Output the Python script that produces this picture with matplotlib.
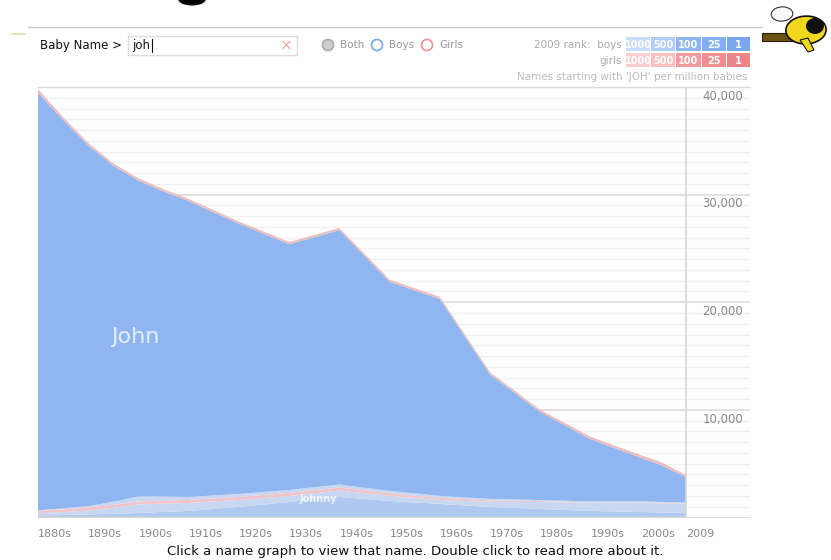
import matplotlib
matplotlib.use("Agg")
import matplotlib.pyplot as plt
from matplotlib.patches import Rectangle, Ellipse, Polygon
import numpy as np

# ---------------- data (per million babies) ----------------
years = [1880, 1885, 1890, 1895, 1900, 1905, 1910, 1920, 1930, 1940,
         1950, 1960, 1970, 1980, 1990, 2000, 2004, 2009]
total_top = [39800, 37200, 34800, 32900, 31500, 30500, 29600, 27500, 25600, 26900,
             22100, 20500, 13500, 10000, 7500, 5800, 5150, 3950]
base_thin = [140, 140, 140, 140, 140, 140, 140, 140, 140, 140,
             140, 140, 140, 140, 140, 140, 140, 140]
johnny = [50, 90, 140, 200, 280, 380, 470, 840, 1300, 1770,
          1400, 1120, 840, 650, 470, 370, 330, 280]
johnnie = [200, 280, 370, 560, 790, 770, 740, 650, 560, 600,
           470, 370, 470, 650, 740, 840, 840, 840]
girls_low = [230, 250, 280, 280, 280, 280, 280, 280, 280, 280,
             230, 190, 140, 90, 50, 50, 50, 50]
johnie = [50, 90, 140, 280, 470, 370, 280, 280, 280, 280,
          230, 190, 140, 90, 90, 90, 90, 90]
girls_john = [350, 250, 220, 200, 200, 200, 200, 200, 200, 200,
              200, 200, 200, 200, 220, 250, 280, 200]
john = [t - a - b - c - d - e - f for t, a, b, c, d, e, f in
        zip(total_top, base_thin, johnny, johnnie, girls_low, johnie, girls_john)]

decade_labels = ["1880s", "1890s", "1900s", "1910s", "1920s", "1930s", "1940s",
                 "1950s", "1960s", "1970s", "1980s", "1990s", "2000s", "2009"]
decade_pos = [1880, 1890, 1900, 1910, 1920, 1930, 1940, 1950, 1960, 1970,
              1980, 1990, 2000, 2009]
y_major = [10000, 20000, 30000, 40000]
y_major_labels = ["10,000", "20,000", "30,000", "40,000"]
rank_levels = ["1000", "500", "100", "25", "1"]

# ---------------- figure ----------------
W, H = 831, 560
plt.rcParams['font.family'] = ['DejaVu Sans']
fig = plt.figure(figsize=(W / 100, H / 100), dpi=100)


def fx(x):
    return x / W


def fy(y):
    return 1 - y / H


# plot axes
L, R, T, B = 38, 750, 87, 517.5
ax = fig.add_axes([fx(L), fy(B), (R - L) / W, (B - T) / H])
xmax = 1880 + (R - L) / 5.023
ax.set_xlim(1880, xmax)
ax.set_ylim(0, 40000)
for s in ax.spines.values():
    s.set_visible(False)
ax.set_xticks([])
ax.set_yticks([])

# gridlines
for v in range(1000, 40001, 1000):
    if v % 10000 == 0:
        ax.axhline(v, color="#dcdcdc", lw=1.2, zorder=0)
    else:
        ax.axhline(v, color="#f0f0f0", lw=1.0, zorder=0)
ax.axhline(0, color="#d8d8d8", lw=1.2, zorder=5)

stack_cols = ["#c3cde0", "#afc8f0", "#c8d8f2", "#f2c4c8", "#c8d8f2", "#8fb6f0", "#eebcbc"]
ax.stackplot(years, base_thin, johnny, johnnie, girls_low, johnie, john, girls_john,
             colors=stack_cols, lw=0, zorder=2)

ax.axvline(2009, color="#d6d6d6", lw=1.2, zorder=3)

for v, lab in zip(y_major, y_major_labels):
    ax.text(xmax - 1.4, v - 850, lab, ha="right", va="center",
            fontsize=8.5, color="#888888")

ax.text(1894.5, 16800, "John", fontsize=16, color="#e6eefb", ha="left", va="center")
ax.text(1932.0, 1750, "Johnny", fontsize=7, color="#eef3fc", ha="left", va="center",
        fontweight="bold")

# x tick labels
for p, lab in zip(decade_pos, decade_labels):
    ax.text(p, -1500, lab, ha="left", va="center", fontsize=8, color="#888888",
            clip_on=False)

fig.text(fx(415), fy(551), "Click a name graph to view that name. Double click to read more about it.",
         ha="center", va="center", fontsize=9.5, color="#111111")

# ---------------- header ----------------
fig.add_artist(plt.Line2D([fx(28), fx(762)], [fy(27), fy(27)], color="#cccccc", lw=1))
fig.add_artist(plt.Line2D([fx(38), fx(750)], [fy(87), fy(87)], color="#dcdcdc", lw=1))
fig.add_artist(Rectangle((fx(11), fy(35)), fx(15), 2 / H, color="#e6e2b0", lw=0))

fig.text(fx(40), fy(45.5), "Baby Name >", fontsize=8.5, color="#111111", va="center", ha="left")
fig.add_artist(Rectangle((fx(128), fy(55)), fx(169), 19 / H, facecolor="white",
                         edgecolor="#dddddd", lw=1))
fig.text(fx(132), fy(45.5), "joh", fontsize=8.5, color="#111111", va="center", ha="left")
fig.add_artist(plt.Line2D([fx(151.5), fx(151.5)], [fy(39), fy(52)], color="#111111", lw=0.8))
fig.text(fx(286), fy(46), "\u00d7", fontsize=11, color="#f4a8a8", va="center", ha="center")

radio = [(328, "#aaaaaa", "#cfcfcf", "Both"), (377, "#78a8f0", "white", "Boys"),
         (427, "#f09090", "white", "Girls")]
for cx, ec, fc, lab in radio:
    fig.add_artist(Ellipse((fx(cx), fy(45)), 11 / W, 11 / H, facecolor=fc,
                           edgecolor=ec, lw=1.2))
    fig.text(fx(cx + 12), fy(45.5), lab, fontsize=7.5, color="#999999", va="center", ha="left")

fig.text(fx(622), fy(45), "2009 rank:  boys", fontsize=7.5, color="#aaaaaa",
         va="center", ha="right")
fig.text(fx(622), fy(60.5), "girls", fontsize=7.5, color="#aaaaaa", va="center", ha="right")
boy_cols = ["#c9dcfb", "#b4cdf6", "#8fb6f1", "#84aef0", "#7aa8ee"]
girl_cols = ["#fbcfcf", "#f8c0c0", "#f09c9c", "#ee8e8e", "#ec8585"]
cell_x = [626, 651, 676, 702, 727]
cell_w = [24, 24, 25, 24, 23]
for i, lab in enumerate(rank_levels):
    for row, (yt, cols) in enumerate([(37, boy_cols), (53, girl_cols)]):
        fig.add_artist(Rectangle((fx(cell_x[i]), fy(yt + 14)), cell_w[i] / W, 14 / H,
                                 facecolor=cols[i], edgecolor="none"))
        fig.text(fx(cell_x[i] + cell_w[i] / 2), fy(yt + 7.5), lab, fontsize=7,
                 color="white", ha="center", va="center", fontweight="bold")
fig.text(fx(747), fy(77), "Names starting with 'JOH' per million babies", fontsize=7.5,
         color="#bbbbbb", ha="right", va="center")

# cut-off title glyph (bottom of a large black letter)
fig.add_artist(Ellipse((fx(192), fy(-1)), 28 / W, 13 / H, facecolor="#000000",
                       edgecolor="none"))
fig.add_artist(Ellipse((fx(192), fy(-3)), 14 / W, 6 / H, facecolor="white",
                       edgecolor="none"))

# crude bee logo
fig.add_artist(Rectangle((fx(762), fy(41)), 34 / W, 8 / H, facecolor="#6a5412",
                         edgecolor="#2a2008", lw=0.8))
fig.add_artist(Ellipse((fx(782), fy(14)), 22 / W, 14 / H, angle=35, facecolor="#f8f8f8",
                       edgecolor="#333333", lw=0.8))
fig.add_artist(Ellipse((fx(806), fy(30)), 40 / W, 28 / H, angle=-25, facecolor="#f2d81c",
                       edgecolor="#111111", lw=1.2))
fig.add_artist(Ellipse((fx(815), fy(26)), 18 / W, 16 / H, facecolor="#111111", edgecolor="none"))
fig.add_artist(Polygon([(fx(800), fy(40)), (fx(808), fy(52)), (fx(814), fy(50)), (fx(808), fy(38))],
                       facecolor="#f2d81c", edgecolor="#111111", lw=0.8))

fig.savefig("out.png", dpi=100)
